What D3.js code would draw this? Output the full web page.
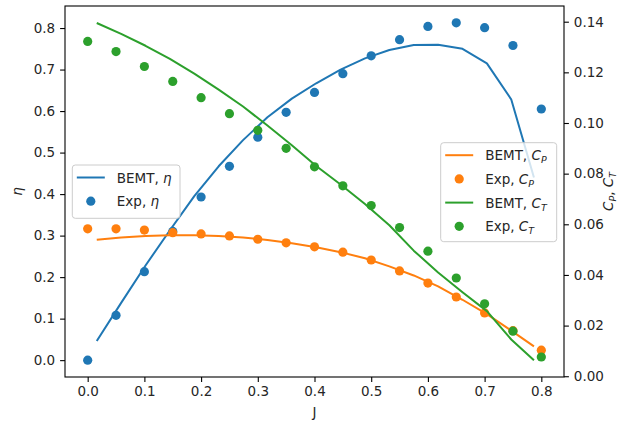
<!DOCTYPE html>
<html>
<head>
<meta charset="utf-8">
<script src="https://cdn.jsdelivr.net/npm/d3@7"></script>
<style>
  body { margin: 0; background: #fff; }
  text { font-family: "DejaVu Sans", sans-serif; fill: #262626; }
</style>
</head>
<body>
<div id="chart"></div>
<script>
// experimental points
const jExp = [0, 0.05, 0.1, 0.15, 0.2, 0.25, 0.3, 0.35, 0.4, 0.45, 0.5, 0.55, 0.6, 0.65, 0.7, 0.75, 0.8];
const etaExp = [0.0, 0.108, 0.213, 0.31, 0.393, 0.467, 0.537, 0.597, 0.645, 0.69, 0.733, 0.772, 0.804, 0.8125, 0.801, 0.758, 0.605];
const cpExp = [0.0582, 0.0582, 0.0577, 0.0567, 0.0562, 0.0554, 0.0541, 0.0527, 0.0511, 0.049, 0.0459, 0.0416, 0.0368, 0.0313, 0.025, 0.018, 0.0103];
const ctExp = [0.1322, 0.1282, 0.1223, 0.1164, 0.110, 0.1037, 0.0971, 0.090, 0.0827, 0.0752, 0.0674, 0.0587, 0.0494, 0.0388, 0.0286, 0.0178, 0.0076];

// BEMT prediction
const jBemt = [0.016, 0.059, 0.102, 0.145, 0.188, 0.231, 0.274, 0.317, 0.360, 0.403, 0.446, 0.489, 0.532, 0.575, 0.618, 0.661, 0.704, 0.747, 0.787];
const etaBemt = [0.046, 0.138, 0.228, 0.313, 0.395, 0.467, 0.530, 0.585, 0.630, 0.667, 0.700, 0.727, 0.747, 0.759, 0.760, 0.750, 0.715, 0.628, 0.440];
const cpBemt = [0.0539, 0.0548, 0.0554, 0.0557, 0.0557, 0.0554, 0.0548, 0.0538, 0.0525, 0.0509, 0.0490, 0.0466, 0.0434, 0.0398, 0.0355, 0.0302, 0.0245, 0.0180, 0.0118];
const ctBemt = [0.1395, 0.1352, 0.1305, 0.1253, 0.1195, 0.1132, 0.1065, 0.0990, 0.0912, 0.0830, 0.0757, 0.0680, 0.0596, 0.0496, 0.0410, 0.0332, 0.0257, 0.0145, 0.0063];

const xTicks = [0, 0.1, 0.2, 0.3, 0.4, 0.5, 0.6, 0.7, 0.8];
const etaTicks = [0, 0.1, 0.2, 0.3, 0.4, 0.5, 0.6, 0.7, 0.8];
const cTicks = [0, 0.02, 0.04, 0.06, 0.08, 0.10, 0.12, 0.14];

const blue = "#1f77b4", orange = "#ff7f0e", green = "#2ca02c";

const width = 619, height = 421;
const margin = { left: 65, right: 55, top: 6, bottom: 44 };
const fs = 13.5;

const svg = d3.select("#chart").append("svg")
    .attr("width", width)
    .attr("height", height);

const x = d3.scaleLinear().domain([-0.04, 0.84]).range([margin.left, width - margin.right]);
const yL = d3.scaleLinear().domain([-0.0406, 0.8531]).range([height - margin.bottom, margin.top]);
const yR = d3.scaleLinear().domain([-0.0003, 0.1462]).range([height - margin.bottom, margin.top]);

// writes "BEMT, η" style labels with italic / subscript pieces
function mathText(sel, parts) {
    parts.forEach(p => {
        const t = sel.append("tspan").text(p.t);
        if (p.it) t.style("font-style", "italic");
        if (p.sub) t.style("font-size", (fs * 0.7) + "px").attr("dy", 3);
        if (p.up) t.attr("dy", -3);
    });
}

function drawLine(xs, ys, yScale, color) {
    const pts = xs.map((d, i) => [d, ys[i]]);
    svg.append("path")
        .datum(pts)
        .attr("fill", "none")
        .attr("stroke", color)
        .attr("stroke-width", 2)
        .attr("stroke-linejoin", "round")
        .attr("d", d3.line().x(d => x(d[0])).y(d => yScale(d[1])));
}

function drawDots(xs, ys, yScale, color) {
    svg.append("g").selectAll("circle")
        .data(xs.map((d, i) => [d, ys[i]]))
        .enter()
        .append("circle")
        .attr("cx", d => x(d[0]))
        .attr("cy", d => yScale(d[1]))
        .attr("r", 4.6)
        .attr("fill", color);
}

function legend(x0, y0, w, h, rows) {
    const g = svg.append("g");
    g.append("rect")
        .attr("x", x0).attr("y", y0).attr("width", w).attr("height", h)
        .attr("rx", 3)
        .attr("fill", "#fff").attr("fill-opacity", 0.8)
        .attr("stroke", "#cccccc").attr("stroke-width", 1);
    rows.forEach((r, i) => {
        const cy = y0 + 12.5 + i * 23.7;
        if (r.type === "line") {
            g.append("line")
                .attr("x1", x0 + 4.5).attr("x2", x0 + 32.5)
                .attr("y1", cy).attr("y2", cy)
                .attr("stroke", r.color).attr("stroke-width", 2);
        } else {
            g.append("circle")
                .attr("cx", x0 + 18.5).attr("cy", cy).attr("r", 4.6)
                .attr("fill", r.color);
        }
        const t = g.append("text")
            .attr("x", x0 + 44.5).attr("y", cy + 5)
            .style("font-size", fs + "px");
        mathText(t, r.label);
    });
}

// ax1: efficiency
drawLine(jBemt, etaBemt, yL, blue);
drawDots(jExp, etaExp, yL, blue);

legend(72.3, 165, 107.7, 53.3, [
    { type: "line", color: blue, label: [{ t: "BEMT, " }, { t: "η", it: true }] },
    { type: "dot", color: blue, label: [{ t: "Exp, " }, { t: "η", it: true }] }
]);

// ax2: power and thrust coefficients
drawLine(jBemt, cpBemt, yR, orange);
drawDots(jExp, cpExp, yR, orange);
drawLine(jBemt, ctBemt, yR, green);
drawDots(jExp, ctExp, yR, green);

legend(440.7, 142.7, 116, 99, [
    { type: "line", color: orange, label: [{ t: "BEMT, " }, { t: "C", it: true }, { t: "P", it: true, sub: true }] },
    { type: "dot", color: orange, label: [{ t: "Exp, " }, { t: "C", it: true }, { t: "P", it: true, sub: true }] },
    { type: "line", color: green, label: [{ t: "BEMT, " }, { t: "C", it: true }, { t: "T", it: true, sub: true }] },
    { type: "dot", color: green, label: [{ t: "Exp, " }, { t: "C", it: true }, { t: "T", it: true, sub: true }] }
]);

// frame
svg.append("rect")
    .attr("x", margin.left).attr("y", margin.top)
    .attr("width", width - margin.left - margin.right)
    .attr("height", height - margin.top - margin.bottom)
    .attr("fill", "none").attr("stroke", "#000").attr("stroke-width", 1.1);

function styleAxis(g) {
    g.select(".domain").remove();
    g.selectAll(".tick line").attr("stroke", "#000").attr("stroke-width", 1.1);
    g.selectAll(".tick text").style("font-size", fs + "px").attr("fill", "#262626");
}

svg.append("g")
    .attr("transform", `translate(0,${height - margin.bottom})`)
    .call(d3.axisBottom(x).tickValues(xTicks).tickFormat(d3.format(".1f")).tickSize(4.9).tickPadding(4.5))
    .call(styleAxis);

svg.append("g")
    .attr("transform", `translate(${margin.left},0)`)
    .call(d3.axisLeft(yL).tickValues(etaTicks).tickFormat(d3.format(".1f")).tickSize(4.9).tickPadding(4.9))
    .call(styleAxis);

svg.append("g")
    .attr("transform", `translate(${width - margin.right},0)`)
    .call(d3.axisRight(yR).tickValues(cTicks).tickFormat(d3.format(".2f")).tickSize(4.9).tickPadding(4.9))
    .call(styleAxis);

// axis labels
svg.append("text")
    .attr("x", x(0.4)).attr("y", 417)
    .attr("text-anchor", "middle")
    .style("font-size", fs + "px")
    .text("J");

const yl = svg.append("text")
    .attr("transform", `translate(22,${yL(0.4063)}) rotate(-90)`)
    .attr("text-anchor", "middle")
    .style("font-size", fs + "px");
mathText(yl, [{ t: "η", it: true }]);

const yr = svg.append("text")
    .attr("transform", `translate(613,${(margin.top + height - margin.bottom) / 2}) rotate(-90)`)
    .attr("text-anchor", "middle")
    .style("font-size", fs + "px");
mathText(yr, [
    { t: "C", it: true }, { t: "P", it: true, sub: true },
    { t: ", ", up: true }, { t: "C", it: true }, { t: "T", it: true, sub: true }
]);
</script>
</body>
</html>
